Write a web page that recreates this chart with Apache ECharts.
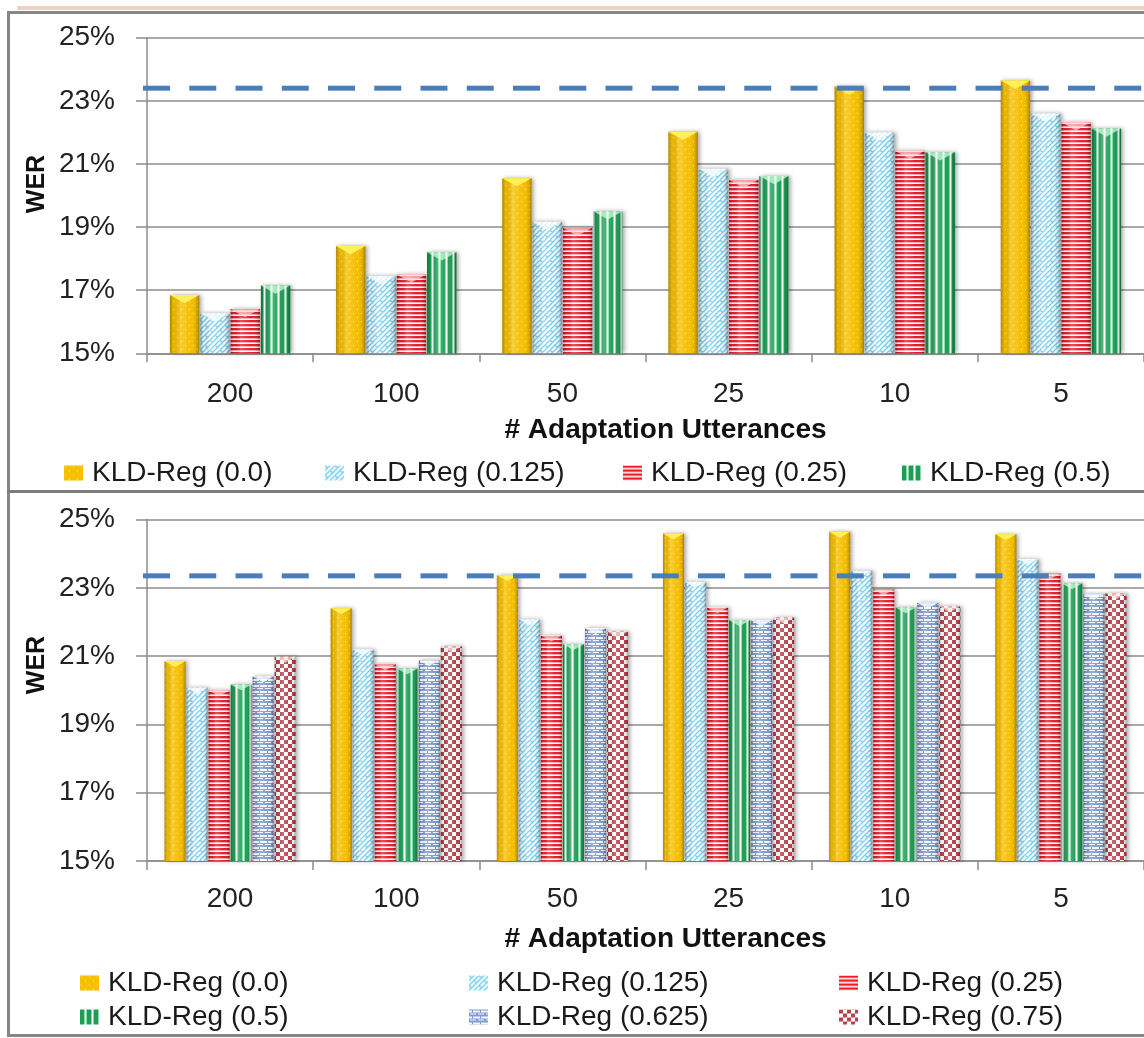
<!DOCTYPE html>
<html>
<head>
<meta charset="utf-8">
<script src="https://cdn.jsdelivr.net/npm/echarts@6/dist/echarts.min.js"></script>
<style>
  html, body { margin: 0; padding: 0; background: #ffffff; width: 1144px; height: 1038px; overflow: hidden; }
  .edge { position: absolute; }
  #chart { position: absolute; left: 0; top: 0; width: 1144px; height: 1038px; }
</style>
</head>
<body>
<div class="edge" style="left:17px;top:6px;width:1127px;height:4px;background:#ecd4c4"></div>
<div class="edge" style="left:7px;top:11px;width:1170px;height:1026px;box-sizing:border-box;border:3px solid #868686"></div>
<div class="edge" style="left:7px;top:490px;width:1137px;height:3px;background:#7c7c7c"></div>
<div id="chart"></div>
<script>
// ---- data ----
const categories = ['200', '100', '50', '25', '10', '5'];
const seriesNames = ['KLD-Reg (0.0)', 'KLD-Reg (0.125)', 'KLD-Reg (0.25)', 'KLD-Reg (0.5)', 'KLD-Reg (0.625)', 'KLD-Reg (0.75)'];

// upper panel: WER (%) per number of adaptation utterances
const werTop00   = [16.85, 18.40, 20.55, 22.02, 23.45, 23.64];
const werTop0125 = [16.27, 17.45, 19.17, 20.85, 22.00, 22.60];
const werTop025  = [16.40, 17.50, 18.98, 20.50, 21.42, 22.32];
const werTop05   = [17.15, 18.20, 19.50, 20.62, 21.37, 22.12];
const baselineTop = 23.4;

// lower panel
const werBot00   = [20.85, 22.40, 23.37, 24.59, 24.64, 24.57];
const werBot0125 = [20.07, 21.20, 22.07, 23.18, 23.50, 23.84];
const werBot025  = [20.00, 20.76, 21.60, 22.43, 22.96, 23.42];
const werBot05   = [20.17, 20.64, 21.35, 22.05, 22.43, 23.13];
const werBot0625 = [20.41, 20.88, 21.82, 22.05, 22.56, 22.82];
const werBot075  = [20.98, 21.29, 21.72, 22.13, 22.46, 22.84];
const baselineBottom = 23.35;

const yMin = 15, yMax = 25, yStep = 2;
const xTitle = '# Adaptation Utterances';
const yTitle = 'WER';

// ---- fill textures ----
function tile(w, h, paint) {
  const c = document.createElement('canvas');
  c.width = w; c.height = h;
  paint(c.getContext('2d'), w, h);
  return { image: c, repeat: 'repeat' };
}
const textures = [
  tile(8, 8, (g) => {            // gold, faint dots
    g.fillStyle = '#f6bf00'; g.fillRect(0, 0, 8, 8);
    g.fillStyle = 'rgba(255,236,160,0.9)'; g.fillRect(1, 1, 1, 1); g.fillRect(5, 5, 1, 1);
  }),
  tile(10, 10, (g) => {          // light blue diagonal lattice
    g.fillStyle = '#f5fcff'; g.fillRect(0, 0, 10, 10);
    g.strokeStyle = '#74cdee'; g.lineWidth = 1.3;
    g.beginPath();
    g.moveTo(-1, 11); g.lineTo(11, -1);
    g.moveTo(-1, 6); g.lineTo(6, -1);
    g.moveTo(4, 11); g.lineTo(11, 4);
    g.moveTo(0, 0); g.lineTo(3, 3);
    g.moveTo(5, 5); g.lineTo(8, 8);
    g.stroke();
  }),
  tile(1, 4, (g) => {            // red horizontal stripes
    g.fillStyle = '#e41f2a'; g.fillRect(0, 0, 1, 2);
    g.fillStyle = '#f6a9ad'; g.fillRect(0, 2, 1, 1);
    g.fillStyle = '#ffffff'; g.fillRect(0, 3, 1, 1);
  }),
  tile(7, 1, (g) => {            // green vertical stripes
    g.fillStyle = '#1e9e55'; g.fillRect(0, 0, 4, 1);
    g.fillStyle = '#8adbab'; g.fillRect(4, 0, 1, 1);
    g.fillStyle = '#ffffff'; g.fillRect(5, 0, 1, 1);
    g.fillStyle = '#8adbab'; g.fillRect(6, 0, 1, 1);
  }),
  tile(8, 6, (g) => {            // blue-grey bricks
    g.fillStyle = '#7f9bd0'; g.fillRect(0, 0, 8, 6);
    g.fillStyle = '#f4f7fd';
    g.fillRect(0, 1, 3, 2); g.fillRect(4, 1, 4, 2); g.fillRect(1, 4, 6, 1);
  }),
  tile(8, 8, (g) => {            // dark red checker
    g.fillStyle = '#ffffff'; g.fillRect(0, 0, 8, 8);
    g.fillStyle = '#b9414c'; g.fillRect(0, 0, 4, 4); g.fillRect(4, 4, 4, 4);
  })
];
const capColors = ['#fff05a', 'rgba(255,255,255,0.75)', 'rgba(255,210,210,0.7)', 'rgba(220,255,230,0.7)', 'rgba(255,255,255,0.75)', 'rgba(255,230,230,0.7)'];
const shade = {
  type: 'linear', x: 0, y: 0, x2: 1, y2: 0,
  colorStops: [
    { offset: 0, color: 'rgba(0,0,0,0.30)' },
    { offset: 0.12, color: 'rgba(0,0,0,0.04)' },
    { offset: 0.35, color: 'rgba(255,255,255,0.22)' },
    { offset: 0.7, color: 'rgba(255,255,255,0)' },
    { offset: 0.9, color: 'rgba(0,0,0,0.10)' },
    { offset: 1, color: 'rgba(0,0,0,0.32)' }
  ]
};

// clustered bar drawn through the cartesian scales
function barRenderer(slot, count, fill, kind) {
  return function (params, api) {
    const cat = api.value(0);
    const floor = api.coord([cat, yMin]);
    const head = api.coord([cat, api.value(1)]);
    const band = api.size([1, 0])[0];
    const groupW = band * fill;
    const w = groupW / count;
    const x = floor[0] - groupW / 2 + slot * w + 0.5;
    const bw = w - 1;
    const y = head[1];
    const h = floor[1] - head[1];
    return {
      type: 'group',
      children: [
        { type: 'rect', shape: { x: x, y: y, width: bw, height: h },
          style: { fill: textures[kind], shadowBlur: 4, shadowOffsetX: 2, shadowColor: 'rgba(0,0,0,0.35)' } },
        { type: 'rect', shape: { x: x, y: y, width: bw, height: h }, style: { fill: shade } },
        { type: 'polygon', shape: { points: [[x, y], [x + bw, y], [x + bw / 2, y + bw * 0.28]] },
          style: { fill: capColors[kind] } }
      ]
    };
  };
}

function makeSeries(kind, values, slot, count, fill, gridIdx) {
  return {
    type: 'custom',
    name: seriesNames[kind],
    coordinateSystem: 'cartesian2d',
    xAxisIndex: gridIdx,
    yAxisIndex: gridIdx,
    itemStyle: { color: textures[kind] },
    encode: { x: 0, y: 1 },
    data: values.map((v, i) => [i, v]),
    renderItem: barRenderer(slot, count, fill, kind),
    z: 2
  };
}

// dashed reference level across the whole plot width
const DASH = 27, GAP = 19.25, DASH_H = 5;
function baselineRenderer(params, api) {
  const y = api.coord([0, api.value(1)])[1];
  const area = params.coordSys;
  const dashes = [];
  for (let x = area.x - 4; x < area.x + area.width; x += DASH + GAP) {
    dashes.push({ type: 'rect', shape: { x: x, y: y - DASH_H / 2, width: DASH, height: DASH_H },
      style: { fill: '#4a7ebb' } });
  }
  return { type: 'group', children: dashes };
}
function baselineSeries(value, gridIdx) {
  return {
    type: 'custom',
    name: 'baseline',
    coordinateSystem: 'cartesian2d',
    xAxisIndex: gridIdx,
    yAxisIndex: gridIdx,
    encode: { x: 0, y: 1 },
    data: [[0, value]],
    renderItem: baselineRenderer,
    silent: true,
    clip: false,
    z: 5
  };
}

const FONT = '"Liberation Sans", Arial, sans-serif';
const gridLine = { color: '#8c8c8c', width: 1.5 };

function xAxisFor(gridIdx, labelMargin, nameGap) {
  return {
    type: 'category', gridIndex: gridIdx, data: categories,
    axisLine: { lineStyle: gridLine },
    axisTick: { show: true, length: 9, interval: 0, lineStyle: gridLine },
    axisLabel: { fontFamily: FONT, fontSize: 28, color: '#222', margin: labelMargin, interval: 0 },
    name: xTitle, nameLocation: 'middle', nameGap: nameGap, nameMoveOverlap: false,
    nameTextStyle: { fontFamily: FONT, fontSize: 28, fontWeight: 'bold', color: '#111', padding: [0, 0, 0, 40] }
  };
}
function yAxisFor(gridIdx) {
  return {
    type: 'value', gridIndex: gridIdx, min: yMin, max: yMax, interval: yStep,
    axisLine: { show: true, lineStyle: gridLine },
    axisTick: { show: true, length: 11, lineStyle: gridLine },
    splitLine: { lineStyle: gridLine },
    axisLabel: { fontFamily: FONT, fontSize: 28, color: '#222', margin: 32, formatter: (v) => v + '%' }
  };
}

function legendItem(kind, left, top) {
  return {
    left: left, top: top, padding: 0, itemWidth: 19, itemHeight: 15, selectedMode: false,
    icon: 'rect',
    textStyle: { fontFamily: FONT, fontSize: 28, color: '#1a1a1a', padding: [0, 0, 0, 4] },
    data: [{ name: seriesNames[kind], itemStyle: { color: textures[kind] } }]
  };
}

const topFill = 0.73, bottomFill = 0.795;
const topValues = [werTop00, werTop0125, werTop025, werTop05];
const bottomValues = [werBot00, werBot0125, werBot025, werBot05, werBot0625, werBot075];

const series = [];
topValues.forEach((vals, k) => series.push(makeSeries(k, vals, k, topValues.length, topFill, 0)));
bottomValues.forEach((vals, k) => series.push(makeSeries(k, vals, k, bottomValues.length, bottomFill, 1)));
series.push(baselineSeries(baselineTop, 0));
series.push(baselineSeries(baselineBottom, 1));

const chart = echarts.init(document.getElementById('chart'));
chart.setOption({
  animation: false,
  grid: [
    { left: 147, top: 37.7, width: 997, height: 315.6, outerBoundsMode: 'none' },
    { left: 147, top: 519.5, width: 997, height: 341.5, outerBoundsMode: 'none' }
  ],
  xAxis: [xAxisFor(0, 27, 63), xAxisFor(1, 24, 64)],
  yAxis: [yAxisFor(0), yAxisFor(1)],
  legend: [
    legendItem(0, 64, 459), legendItem(1, 325, 459), legendItem(2, 623, 459), legendItem(3, 902, 459),
    legendItem(0, 80, 969), legendItem(1, 469, 969), legendItem(2, 839, 969),
    legendItem(3, 80, 1003), legendItem(4, 469, 1003), legendItem(5, 839, 1003)
  ],
  graphic: [
    { type: 'text', x: 37, y: 184, rotation: Math.PI / 2,
      style: { text: yTitle, font: 'bold 25px ' + FONT, fill: '#111', align: 'center', verticalAlign: 'middle' } },
    { type: 'text', x: 37, y: 665, rotation: Math.PI / 2,
      style: { text: yTitle, font: 'bold 25px ' + FONT, fill: '#111', align: 'center', verticalAlign: 'middle' } }
  ],
  series: series
});
</script>
</body>
</html>
